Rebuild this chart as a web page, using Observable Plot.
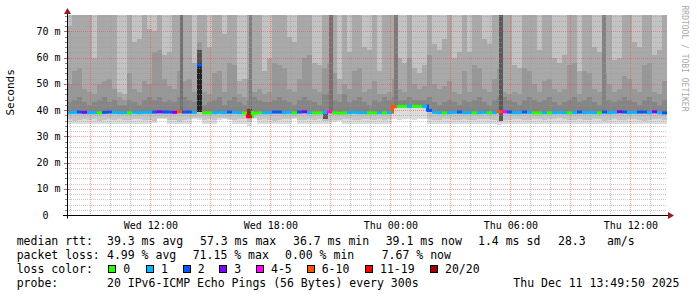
<!DOCTYPE html>
<html><head><meta charset="utf-8">
<script src="https://cdn.jsdelivr.net/npm/d3@7"></script>
<script src="https://cdn.jsdelivr.net/npm/@observablehq/plot@0.6"></script>
<style>
html,body{margin:0;padding:0;background:#fff;}
#wrap{position:relative;width:697px;height:297px;overflow:hidden;font-family:"DejaVu Sans Mono",monospace;}
#chart svg{display:block;}
#legend{position:relative;width:697px;height:67px;font-size:11.5px;color:#000;}
#legend span{position:absolute;white-space:pre;line-height:14px;}
#legend i{position:absolute;width:6px;height:6px;border:1px solid #000;}
</style></head><body>
<div id="wrap"><div id="chart"></div><div id="legend"></div></div>
<script>
// ---------- data ----------
const START = Date.UTC(2025, 11, 10, 7, 50);   // Wed 07:50
const END   = Date.UTC(2025, 11, 11, 13, 50);  // Thu 13:50
const STEP_MIN = 15;                            // one column = 15 minutes
const OFFSCALE = 80;                            // pings slower than the visible limit
const Y_TOP = 76.2;

// median rtt (ms) per column
const med = [
 39.2,39.3,39.4,39.3,39.2,39.2,39.1,39.3,39.4,39.3,
 39.2,39.2,39.1,39.3,39.2,39.3,39.3,39.4,39.5,39.4,
 39.4,39.3,39.5,39.4,39.4,39.3,57.3,39.1,39.1,39.2,
 39.3,39.2,39.4,39.3,39.2,39.1,37.6,39.0,39.1,39.2,
 39.2,39.4,39.4,39.2,39.3,39.1,39.4,39.5,39.2,39.1,
 39.1,39.3,39.5,39.1,39.0,39.1,39.2,39.3,39.2,39.2,
 39.1,39.1,39.2,39.1,39.2,41.4,41.6,41.6,41.5,41.6,
 41.6,41.5,40.0,39.3,39.2,39.1,39.2,39.3,39.4,39.2,
 39.2,39.1,39.2,39.3,39.1,39.2,39.5,39.5,39.4,39.2,
 39.2,39.4,39.3,39.1,39.1,39.2,39.1,39.2,39.3,39.2,
 39.1,39.2,39.4,39.2,39.3,39.2,39.1,39.4,39.2,39.3,
 39.5,39.4,39.2,39.3,39.4,39.4,39.2,39.5,39.2,39.1];
// lost pings (of 20) per column
const loss = [
 1,1,2,3,1,1,0,2,2,1, 1,1,0,1,1,1,1,2,3,2, 2,3,8,2,2,1,2,0,0,1, 1,1,2,1,1,0,15,0,0,1,
 1,2,2,1,1,0,2,3,1,0, 0,1,4,0,0,0,1,1,1,1, 0,0,1,0,1,8,0,0,1,0, 0,1,2,1,1,0,1,1,2,1,
 1,0,1,1,0,1,8,4,2,1, 1,2,1,0,0,1,0,1,1,1, 0,1,2,1,1,1,0,2,1,1, 3,2,1,1,2,2,1,3,1,2];
// fastest ping and lower-quartile ping (ms)
const lo = [
 34.6,34.5,34.7,34.6,34.8,34.6,34.5,34.6,34.7,34.6, 34.6,34.8,34.6,34.5,34.6,34.7,34.6,34.9,36.4,36.5,
 34.7,34.6,34.5,34.6,34.8,36.6,36.2,34.6,34.7,34.6, 36.3,36.4,36.2,34.8,34.6,34.6,34.0,36.4,34.6,34.7,
 34.6,34.7,34.6,34.5,34.8,36.5,34.6,34.6,34.7,34.6, 34.6,34.5,34.6,35.6,35.8,34.6,34.7,34.6,34.5,34.6,
 34.7,34.6,34.6,34.8,34.6,36.4,36.3,36.4,36.4,36.3, 36.4,36.4,34.8,34.6,34.6,34.7,34.6,34.5,34.6,34.6,
 34.6,34.7,34.6,34.6,34.5,34.6,34.4,34.6,34.7,34.6, 34.6,34.6,34.8,34.6,34.5,34.6,34.6,34.7,34.6,34.6,
 34.5,34.6,34.7,34.6,34.6,34.8,34.6,34.5,34.6,34.7, 34.6,34.6,34.5,34.6,34.7,34.6,34.6,34.8,34.6,34.6];
const lo2 = [
 36.4,36.0,36.2,36.6,36.3,36.5,35.9,36.2,36.4,36.3, 36.6,36.2,36.1,36.4,36.7,36.3,36.2,36.0,36.8,37.0,
 36.3,36.1,35.6,36.2,36.4,37.0,36.8,36.2,36.5,36.3, 36.8,36.9,36.7,36.1,36.4,36.5,35.5,36.8,36.2,36.4,
 36.3,36.0,36.2,36.5,36.6,36.9,36.2,36.1,36.4,36.3, 36.5,36.0,35.8,36.3,36.2,36.4,36.6,36.2,36.3,36.5,
 36.4,36.2,36.6,36.3,36.4,40.6,40.7,40.8,40.6,40.7, 40.8,40.6,36.5,36.3,36.2,36.6,36.4,36.1,36.3,36.5,
 36.3,36.1,36.4,36.5,36.6,36.2,35.6,36.3,36.2,36.4, 36.6,36.2,36.1,36.5,36.7,36.3,36.4,36.6,36.8,36.5,
 36.3,36.1,36.4,36.2,36.3,36.6,36.5,36.0,36.3,36.4, 36.2,36.1,36.4,36.5,36.3,36.0,36.2,36.4,36.6,36.3];
// upper ping levels (ms): outer, middle, inner
const u3 = [
 72,80,80,80,80,60,80,80,80,80, 47,46,80,66,67,80,71,70,80,61, 62,80,80,80,80,58,80,80,64,80, 80,69,80,80,51,52,80,80,80,55,
 60,80,80,80,68,66,80,80,80,58, 57,80,80,80,52,80,62,80,80,64, 63,80,55,80,80,80,60,58,80,56, 54,57,80,65,63,67,80,60,62,80,
 62,80,80,67,65,80,80,80,80,57, 56,80,80,80,63,80,80,60,58,61, 80,80,55,80,80,64,62,80,80,59, 60,80,80,66,64,80,80,61,63,80];
const u2 = [
 50,55,56,48,47,46,50,51,52,48, 45,44,54,48,47,51,50,62,63,52, 49,48,55,51,52,47,66,47,46,54, 55,47,58,57,46,45,52,47,48,46,
 47,58,57,56,48,47,52,60,61,48, 47,56,58,54,46,50,48,55,56,47, 48,51,46,46,47,52,48,47,60,50, 48,49,61,50,48,49,51,47,46,55,
 47,57,56,48,47,52,56,47,46,47, 46,56,55,50,47,51,52,48,47,48, 57,58,46,55,54,48,47,54,50,47, 48,53,52,48,47,57,58,47,46,51];
const u1 = [
 43,44,45,43,42,43,44,45,43,44, 42,42,44,43,42,44,45,44,45,43, 44,43,45,45,44,43,60,42,43,44, 45,42,44,45,43,42,44,45,44,43,
 43,44,45,44,43,42,44,45,44,43, 42,46,46,44,43,46,43,44,45,43, 42,44,43,45,44,45,44,44,45,44, 44,44,45,43,42,43,44,43,42,44,
 43,44,45,43,42,44,45,45,44,43, 42,44,45,44,43,44,45,43,42,43, 44,45,43,44,45,43,42,44,44,43, 44,45,44,43,42,44,45,43,42,44];
// narrow streaks where many pings piled up
const streakAt    = ["2025-12-10T13:30Z","2025-12-10T14:20Z","2025-12-10T14:20Z","2025-12-10T16:50Z","2025-12-10T16:56Z","2025-12-10T20:38Z","2025-12-10T20:56Z","2025-12-11T00:11Z","2025-12-11T05:26Z","2025-12-11T10:35Z"];
const streakMin   = [8,15,15,15,10,15,12,12,12,12];
const streakLo    = [40.0,39.3,58.0,37.3,40.5,36.5,39.5,41.6,36.0,40.0];
const streakHi    = [80,58.0,63.0,40.5,80,39.2,80,80,80,80];
const streakPings = [4,14,8,10,3,7,4,3,7,2];

const lossCats   = ["0","1","2","3","4-5","6-10","11-19","20/20"];
const lossColors = ["#26ff00","#00b8ff","#0059ff","#7e00ff","#ff00ff","#ff5500","#ff0000","#a10000"];
const yTicks = [0,10,20,30,40,50,60,70];

const rttStats  = ["39.3 ms avg","57.3 ms max","36.7 ms min","39.1 ms now","1.4 ms sd","28.3","am/s"];
const lossStats = ["4.99 % avg","71.15 % max","0.00 % min","7.67 % now"];
const probeText = "20 IPv6-ICMP Echo Pings (56 Bytes) every 300s";
const stamp = "Thu Dec 11 13:49:50 2025";

// ---------- build ----------
const MS = 60000;
function catIndex(n){ return n===0?0: n===1?1: n===2?2: n===3?3: n<=5?4: n<=10?5: n<=19?6:7; }
const cols = med.map((m,k)=>({
  t0: new Date(START + k*STEP_MIN*MS), t1: new Date(START + (k+1)*STEP_MIN*MS),
  med: m, c: lossColors[catIndex(loss[k])], lo: lo[k], lo2: lo2[k], u1: u1[k], u2: u2[k], u3: u3[k], top: OFFSCALE
}));
const shade = d3.scaleLinear().domain([1,14]).range(["#8a8a8a","#222222"]);
const streaks = streakAt.map((s,i)=>{ const t = new Date(s).getTime(); return {t0:new Date(t), t1:new Date(t+streakMin[i]*MS), lo:streakLo[i], hi:streakHi[i], f: shade(streakPings[i])}; });
const joins = [];
for (let k=1;k<cols.length;k++){ const d=Math.abs(cols[k].med-cols[k-1].med); if(d>=0.8 && d<5) joins.push({t:cols[k].t0, a:cols[k-1].med, b:cols[k].med, c:cols[k].c}); }

const minorY = d3.range(2, Y_TOP, 2).filter(v => v % 10 !== 0);
const majorY = d3.range(10, Y_TOP, 10);
const minorX = d3.utcHour.range(new Date(START), new Date(END)).filter(d => d.getUTCHours() % 3 !== 0);
const majorX = d3.utcHour.every(3).range(new Date(START), new Date(END));
const labelX = d3.utcHour.every(6).range(new Date(START), new Date(END));

const band = (y1, y2, fill) => Plot.rect(cols, {x1:"t0", x2:"t1", y1, y2, fill, clip:true, shapeRendering:"crispEdges"});

const chart = Plot.plot({
  width: 697, height: 230,
  marginLeft: 67, marginRight: 30, marginTop: 15, marginBottom: 15,
  x: {type: "utc", domain: [new Date(START), new Date(END)]},
  y: {domain: [0, Y_TOP]},
  style: {fontFamily: "DejaVu Sans Mono", fontSize: "10px", background: "#fff", color: "#000", overflow: "visible"},
  marks: [
    band("lo", "med", "#dcdcdc"),
    band("lo2", "med", "#c4c4c4"),
    band("med", "top", "#c3c3c3"),
    band("med", "u3", "#a9a9a9"),
    band("med", "u2", "#979797"),
    band("med", "u1", "#858585"),
    Plot.rect(streaks, {x1:"t0", x2:"t1", y1:"lo", y2:"hi", fill:"f", clip:true, shapeRendering:"crispEdges"}),
    Plot.ruleY(minorY, {stroke:"#9a9a9a", strokeOpacity:0.55, strokeDasharray:"1,1", shapeRendering:"crispEdges"}),
    Plot.ruleX(minorX, {stroke:"#9a9a9a", strokeOpacity:0.55, strokeDasharray:"1,1", shapeRendering:"crispEdges"}),
    Plot.ruleY(majorY, {stroke:"#ff4040", strokeOpacity:0.5, strokeDasharray:"1,1", shapeRendering:"crispEdges"}),
    Plot.ruleX(majorX, {stroke:"#ff4040", strokeOpacity:0.5, strokeDasharray:"1,1", shapeRendering:"crispEdges"}),
    Plot.ruleX(joins, {x:"t", y1:"a", y2:"b", stroke:"c", strokeWidth:3, strokeLinecap:"square"}),
    Plot.ruleY(cols, {y:"med", x1:"t0", x2:"t1", stroke:"c", strokeWidth:3}),
    Plot.axisY({ticks: yTicks, tickSize: 0, tickPadding: 7, label: null, fontSize: 10,
      tickFormat: d => d === 0 ? "0\u00a0\u00a0" : `${d} m`}),
    Plot.axisX({ticks: labelX, tickSize: 0, tickPadding: 6, label: null, fontSize: 10,
      tickFormat: d3.utcFormat("%a %H:%M")}),
    Plot.text(["Seconds"], {frameAnchor: "left", dx: -57, rotate: -90, fontSize: 11}),
    Plot.text(["RRDTOOL / TOBI OETIKER"], {frameAnchor: "top-right", dx: 20.5, dy: -10, rotate: 90, textAnchor: "start", fontSize: 8, fill: "#aaaaaa"})
  ]
});
document.getElementById("chart").appendChild(chart);

// axes lines, ticks, arrows
const sx = chart.scale("x"), sy = chart.scale("y");
const X0 = Math.round(sx.apply(new Date(START))) + 0.5, XE = Math.round(sx.apply(new Date(END)));
const Y0 = Math.round(sy.apply(0)) + 0.5, YT = Math.round(sy.apply(Y_TOP));
const svg = d3.select(chart);
const g = svg.append("g");
minorY.forEach(v => { const y = Math.round(sy.apply(v)) + 0.5;
  g.append("line").attr("x1", X0-2.5).attr("x2", X0).attr("y1", y).attr("y2", y).attr("stroke", "#888"); });
majorY.forEach(v => { const y = Math.round(sy.apply(v)) + 0.5;
  g.append("line").attr("x1", X0-3.5).attr("x2", X0+2).attr("y1", y).attr("y2", y).attr("stroke", "#c06060"); });
g.append("line").attr("x1", X0-4.5).attr("x2", XE+1).attr("y1", Y0).attr("y2", Y0).attr("stroke", "#000");
g.append("line").attr("x1", X0).attr("x2", X0).attr("y1", Y0+3).attr("y2", YT-1).attr("stroke", "#000");
g.append("path").attr("d", `M${X0-3.5},${YT-1}L${X0+3.5},${YT-1}L${X0},${YT-7}Z`).attr("fill", "#9a1c1c");
g.append("path").attr("d", `M${XE+1},${Y0-3.5}L${XE+1},${Y0+3.5}L${XE+7},${Y0}Z`).attr("fill", "#9a1c1c");

// ---------- legend ----------
const L = document.getElementById("legend");
function span(text, x, top){ const s=document.createElement("span"); s.textContent=text; s.style.left=x+"px"; s.style.top=top+"px"; L.appendChild(s); }
const rowTop = [4.3, 18.0, 31.8, 45.5];
span("median rtt:", 16.7, rowTop[0]);
[107,200,293,385.7,478,558,607].forEach((x,i)=>span(rttStats[i], x, rowTop[0]));
span("packet loss:", 16.7, rowTop[1]);
[107,192.7,285,381.7].forEach((x,i)=>span(lossStats[i], x, rowTop[1]));
span("loss color:", 16.7, rowTop[2]);
const boxX = [108.3,146,182.7,219.3,256,306.7,365,430];
lossCats.forEach((c,i)=>{
  const b=document.createElement("i"); b.style.left=boxX[i]+"px"; b.style.top="35px"; b.style.background=lossColors[i]; L.appendChild(b);
  span(c, boxX[i]+15, rowTop[2]);
});
span("probe:", 16.7, rowTop[3]);
span(probeText, 107, rowTop[3]);
span(stamp, 513.3, rowTop[3]);
</script>
</body></html>
